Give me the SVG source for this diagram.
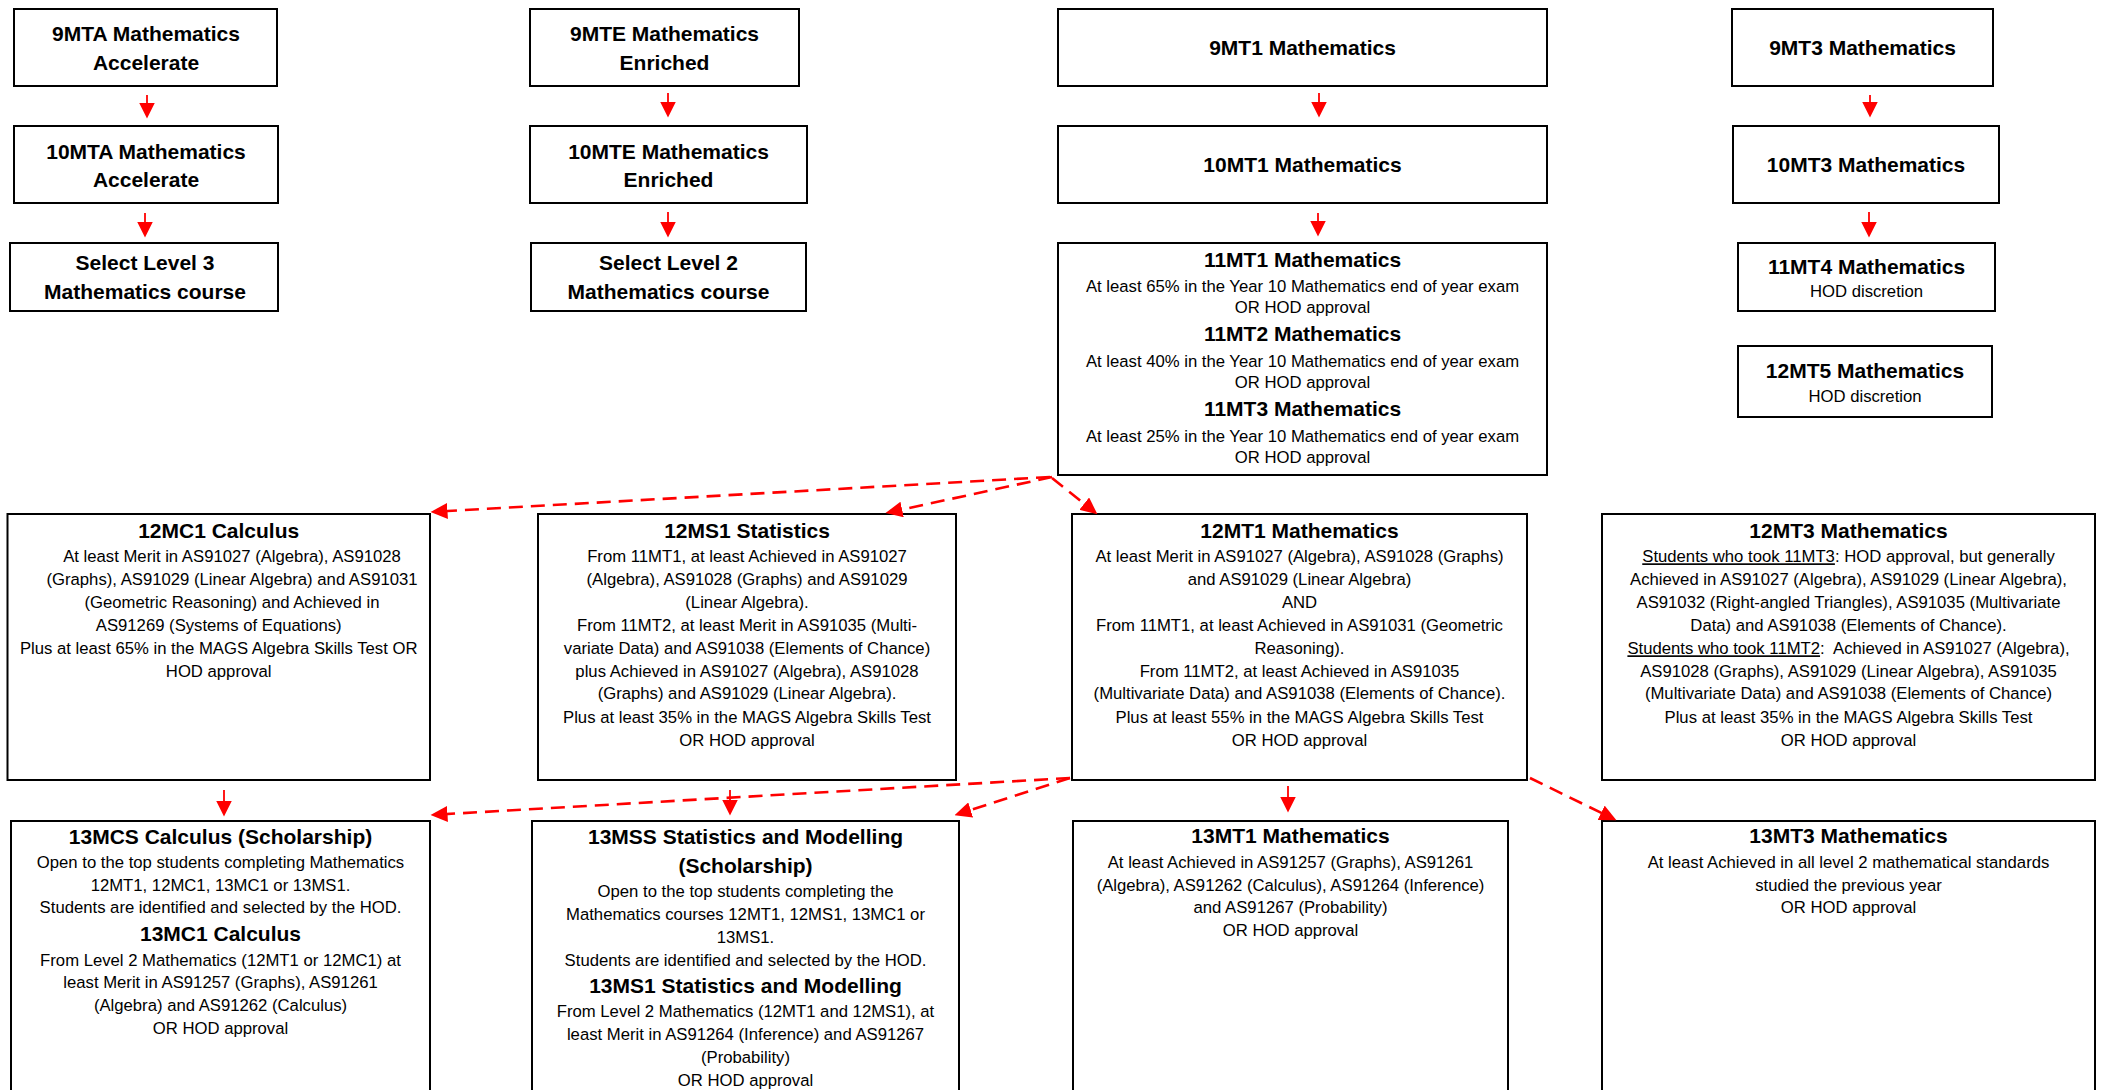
<svg xmlns="http://www.w3.org/2000/svg" width="2105" height="1090" viewBox="0 0 2105 1090">
<style>
.box{fill:#fff;stroke:#000;stroke-width:2}
.t{font-family:"Liberation Sans",Arial,sans-serif;font-weight:bold;font-size:21px;text-anchor:middle;fill:#000}
.b{font-family:"Liberation Sans",Arial,sans-serif;font-size:16.7px;text-anchor:middle;fill:#000}
.u{text-decoration:underline}
.solid{stroke:#f00;stroke-width:1.8;fill:none}
.dash{stroke:#f00;stroke-width:2.6;stroke-dasharray:14 8;fill:none}
</style>
<defs>
<marker id="ah" markerUnits="userSpaceOnUse" markerWidth="16" markerHeight="16" refX="7" refY="7.5" orient="auto" viewBox="0 0 15 15">
<path d="M0,0 L15,7.5 L0,15 Z" fill="#f00"/>
</marker>
<marker id="dh" markerUnits="userSpaceOnUse" markerWidth="17" markerHeight="16" refX="8" refY="7.5" orient="auto" viewBox="0 0 16 15">
<path d="M0,0 L16,7.5 L0,15 Z" fill="#f00"/>
</marker>
</defs>
<rect width="2105" height="1090" fill="#fff"/>

<g id="n9MTA"><rect class="box" x="14" y="9" width="263" height="77"/>
<text class="t"><tspan x="146" y="41">9MTA Mathematics</tspan><tspan x="146" y="69.5">Accelerate</tspan></text></g>
<g id="n10MTA"><rect class="box" x="14" y="126" width="264" height="77"/>
<text class="t"><tspan x="146" y="158.5">10MTA Mathematics</tspan><tspan x="146" y="187">Accelerate</tspan></text></g>
<g id="nSelL3"><rect class="box" x="10" y="243" width="268" height="68"/>
<text class="t"><tspan x="145" y="270">Select Level 3</tspan><tspan x="145" y="299">Mathematics course</tspan></text></g>

<g id="n9MTE"><rect class="box" x="530" y="9" width="269" height="77"/>
<text class="t"><tspan x="664.5" y="41">9MTE Mathematics</tspan><tspan x="664.5" y="69.5">Enriched</tspan></text></g>
<g id="n10MTE"><rect class="box" x="530" y="126" width="277" height="77"/>
<text class="t"><tspan x="668.5" y="158.5">10MTE Mathematics</tspan><tspan x="668.5" y="187">Enriched</tspan></text></g>
<g id="nSelL2"><rect class="box" x="531" y="243" width="275" height="68"/>
<text class="t"><tspan x="668.5" y="270">Select Level 2</tspan><tspan x="668.5" y="299">Mathematics course</tspan></text></g>

<g id="n9MT1"><rect class="box" x="1058" y="9" width="489" height="77"/>
<text class="t" x="1302.5" y="55">9MT1 Mathematics</text></g>
<g id="n10MT1"><rect class="box" x="1058" y="126" width="489" height="77"/>
<text class="t" x="1302.5" y="172.3">10MT1 Mathematics</text></g>
<g id="n11MT"><rect class="box" x="1058" y="243" width="489" height="232"/>
<text class="t" x="1302.5" y="266.7">11MT1 Mathematics</text>
<text class="b"><tspan x="1302.5" y="291.7">At least 65% in the Year 10 Mathematics end of year exam</tspan><tspan x="1302.5" y="313.3">OR HOD approval</tspan></text>
<text class="t" x="1302.5" y="340.7">11MT2 Mathematics</text>
<text class="b"><tspan x="1302.5" y="366.7">At least 40% in the Year 10 Mathematics end of year exam</tspan><tspan x="1302.5" y="388.3">OR HOD approval</tspan></text>
<text class="t" x="1302.5" y="415.7">11MT3 Mathematics</text>
<text class="b"><tspan x="1302.5" y="441.7">At least 25% in the Year 10 Mathematics end of year exam</tspan><tspan x="1302.5" y="463.3">OR HOD approval</tspan></text></g>

<g id="n9MT3"><rect class="box" x="1732" y="9" width="261" height="77"/>
<text class="t" x="1862.5" y="55">9MT3 Mathematics</text></g>
<g id="n10MT3"><rect class="box" x="1733" y="126" width="266" height="77"/>
<text class="t" x="1866" y="172.3">10MT3 Mathematics</text></g>
<g id="n11MT4"><rect class="box" x="1738" y="243" width="257" height="68"/>
<text class="t" x="1866.5" y="274">11MT4 Mathematics</text>
<text class="b" x="1866.5" y="297.3">HOD discretion</text></g>
<g id="n12MT5"><rect class="box" x="1738" y="346" width="254" height="71"/>
<text class="t" x="1865" y="378.3">12MT5 Mathematics</text>
<text class="b" x="1865" y="402.3">HOD discretion</text></g>

<g id="n12MC1"><rect class="box" x="7.5" y="514" width="422.5" height="266"/>
<text class="t" x="218.7" y="537.7">12MC1 Calculus</text>
<text class="b"><tspan x="232" y="562.3">At least Merit in AS91027 (Algebra), AS91028</tspan><tspan x="232" y="585.3">(Graphs), AS91029 (Linear Algebra) and AS91031</tspan><tspan x="232" y="608.3">(Geometric Reasoning) and Achieved in</tspan><tspan x="218.7" y="631.3">AS91269 (Systems of Equations)</tspan><tspan x="218.7" y="654.3">Plus at least 65% in the MAGS Algebra Skills Test OR</tspan><tspan x="218.7" y="676.7">HOD approval</tspan></text></g>

<g id="n12MS1"><rect class="box" x="538" y="514" width="418" height="266"/>
<text class="t" x="747" y="537.7">12MS1 Statistics</text>
<text class="b"><tspan x="747" y="562.3">From 11MT1, at least Achieved in AS91027</tspan><tspan x="747" y="585.3">(Algebra), AS91028 (Graphs) and AS91029</tspan><tspan x="747" y="608.3">(Linear Algebra).</tspan><tspan x="747" y="631.3">From 11MT2, at least Merit in AS91035 (Multi-</tspan><tspan x="747" y="654.3">variate Data) and AS91038 (Elements of Chance)</tspan><tspan x="747" y="676.7">plus Achieved in AS91027 (Algebra), AS91028</tspan><tspan x="747" y="699.3">(Graphs) and AS91029 (Linear Algebra).</tspan><tspan x="747" y="722.7">Plus at least 35% in the MAGS Algebra Skills Test</tspan><tspan x="747" y="745.7">OR HOD approval</tspan></text></g>

<g id="n12MT1"><rect class="box" x="1072" y="514" width="455" height="266"/>
<text class="t" x="1299.5" y="537.7">12MT1 Mathematics</text>
<text class="b"><tspan x="1299.5" y="562.3">At least Merit in AS91027 (Algebra), AS91028 (Graphs)</tspan><tspan x="1299.5" y="585.3">and AS91029 (Linear Algebra)</tspan><tspan x="1299.5" y="608.3">AND</tspan><tspan x="1299.5" y="631.3">From 11MT1, at least Achieved in AS91031 (Geometric</tspan><tspan x="1299.5" y="654.3">Reasoning).</tspan><tspan x="1299.5" y="676.7">From 11MT2, at least Achieved in AS91035</tspan><tspan x="1299.5" y="699.3">(Multivariate Data) and AS91038 (Elements of Chance).</tspan><tspan x="1299.5" y="722.7">Plus at least 55% in the MAGS Algebra Skills Test</tspan><tspan x="1299.5" y="745.7">OR HOD approval</tspan></text></g>

<g id="n12MT3"><rect class="box" x="1602" y="514" width="493" height="266"/>
<text class="t" x="1848.5" y="537.7">12MT3 Mathematics</text>
<text class="b"><tspan x="1848.5" y="562.3"><tspan class="u">Students who took 11MT3</tspan>: HOD approval, but generally</tspan><tspan x="1848.5" y="585.3">Achieved in AS91027 (Algebra), AS91029 (Linear Algebra),</tspan><tspan x="1848.5" y="608.3">AS91032 (Right-angled Triangles), AS91035 (Multivariate</tspan><tspan x="1848.5" y="631.3">Data) and AS91038 (Elements of Chance).</tspan><tspan x="1848.5" y="654.3"><tspan class="u">Students who took 11MT2</tspan>:&#160; Achieved in AS91027 (Algebra),</tspan><tspan x="1848.5" y="676.7">AS91028 (Graphs), AS91029 (Linear Algebra), AS91035</tspan><tspan x="1848.5" y="699.3">(Multivariate Data) and AS91038 (Elements of Chance)</tspan><tspan x="1848.5" y="722.7">Plus at least 35% in the MAGS Algebra Skills Test</tspan><tspan x="1848.5" y="745.7">OR HOD approval</tspan></text></g>

<g id="n13MCS"><rect class="box" x="11" y="821" width="419" height="290"/>
<text class="t" x="220.5" y="844">13MCS Calculus (Scholarship)</text>
<text class="b"><tspan x="220.5" y="867.7">Open to the top students completing Mathematics</tspan><tspan x="220.5" y="890.7">12MT1, 12MC1, 13MC1 or 13MS1.</tspan><tspan x="220.5" y="913.3">Students are identified and selected by the HOD.</tspan></text>
<text class="t" x="220.5" y="941">13MC1 Calculus</text>
<text class="b"><tspan x="220.5" y="965.7">From Level 2 Mathematics (12MT1 or 12MC1) at</tspan><tspan x="220.5" y="988.3">least Merit in AS91257 (Graphs), AS91261</tspan><tspan x="220.5" y="1010.7">(Algebra) and AS91262 (Calculus)</tspan><tspan x="220.5" y="1034">OR HOD approval</tspan></text></g>

<g id="n13MSS"><rect class="box" x="532" y="821" width="427" height="290"/>
<text class="t"><tspan x="745.5" y="844">13MSS Statistics and Modelling</tspan><tspan x="745.5" y="873.3">(Scholarship)</tspan></text>
<text class="b"><tspan x="745.5" y="897.3">Open to the top students completing the</tspan><tspan x="745.5" y="920">Mathematics courses 12MT1, 12MS1, 13MC1 or</tspan><tspan x="745.5" y="943.3">13MS1.</tspan><tspan x="745.5" y="966">Students are identified and selected by the HOD.</tspan></text>
<text class="t" x="745.5" y="993.3">13MS1 Statistics and Modelling</text>
<text class="b"><tspan x="745.5" y="1017.3">From Level 2 Mathematics (12MT1 and 12MS1), at</tspan><tspan x="745.5" y="1040">least Merit in AS91264 (Inference) and AS91267</tspan><tspan x="745.5" y="1063.3">(Probability)</tspan><tspan x="745.5" y="1086">OR HOD approval</tspan></text></g>

<g id="n13MT1"><rect class="box" x="1073" y="821" width="435" height="290"/>
<text class="t" x="1290.5" y="843.3">13MT1 Mathematics</text>
<text class="b"><tspan x="1290.5" y="868.3">At least Achieved in AS91257 (Graphs), AS91261</tspan><tspan x="1290.5" y="891">(Algebra), AS91262 (Calculus), AS91264 (Inference)</tspan><tspan x="1290.5" y="913.3">and AS91267 (Probability)</tspan><tspan x="1290.5" y="936">OR HOD approval</tspan></text></g>

<g id="n13MT3"><rect class="box" x="1602" y="821" width="493" height="290"/>
<text class="t" x="1848.5" y="843.3">13MT3 Mathematics</text>
<text class="b"><tspan x="1848.5" y="868.3">At least Achieved in all level 2 mathematical standards</tspan><tspan x="1848.5" y="891">studied the previous year</tspan><tspan x="1848.5" y="913.3">OR HOD approval</tspan></text></g>

<g id="connectors">
<line class="solid" x1="147" y1="95" x2="147" y2="110" marker-end="url(#ah)"/>
<line class="solid" x1="145" y1="213" x2="145" y2="229" marker-end="url(#ah)"/>
<line class="solid" x1="668" y1="93" x2="668" y2="109" marker-end="url(#ah)"/>
<line class="solid" x1="668" y1="212" x2="668" y2="229" marker-end="url(#ah)"/>
<line class="solid" x1="1319" y1="93" x2="1319" y2="109" marker-end="url(#ah)"/>
<line class="solid" x1="1318" y1="213" x2="1318" y2="228" marker-end="url(#ah)"/>
<line class="solid" x1="1870" y1="95" x2="1870" y2="109" marker-end="url(#ah)"/>
<line class="solid" x1="1869" y1="212" x2="1869" y2="229" marker-end="url(#ah)"/>
<line class="solid" x1="224" y1="790" x2="224" y2="808" marker-end="url(#ah)"/>
<line class="solid" x1="730" y1="790" x2="730" y2="807" marker-end="url(#ah)"/>
<line class="solid" x1="1288" y1="786" x2="1288" y2="804" marker-end="url(#ah)"/>
<line class="dash" x1="1050" y1="477" x2="439" y2="511.5" marker-end="url(#dh)"/>
<line class="dash" x1="1052" y1="477" x2="893.8" y2="511.3" marker-end="url(#dh)"/>
<line class="dash" x1="1052" y1="478" x2="1090.8" y2="509" marker-end="url(#dh)"/>
<line class="dash" x1="1070" y1="778" x2="439" y2="814.5" marker-end="url(#dh)"/>
<line class="dash" x1="1070" y1="778" x2="962.6" y2="812.6" marker-end="url(#dh)"/>
<line class="dash" x1="1530" y1="778" x2="1608.8" y2="816.5" marker-end="url(#dh)"/>
</g>
</svg>
